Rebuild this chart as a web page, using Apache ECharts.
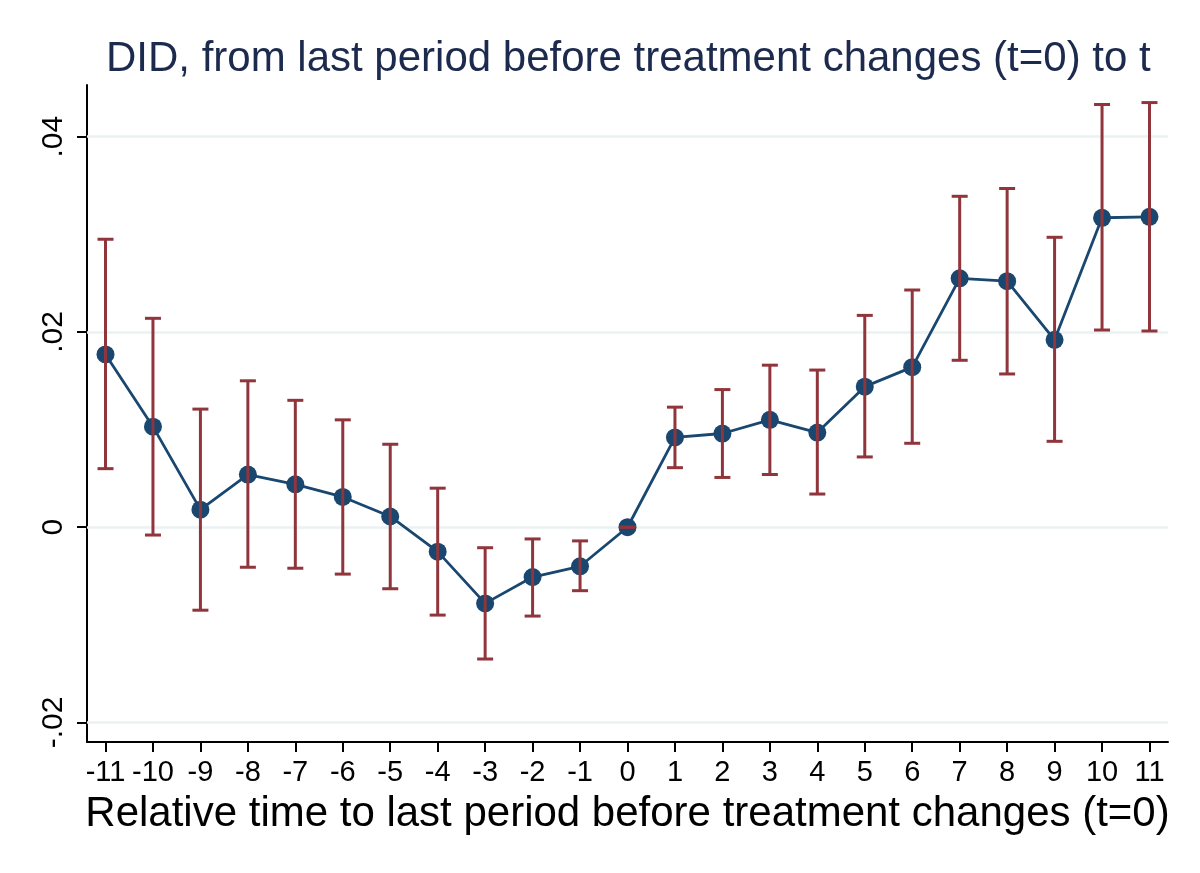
<!DOCTYPE html>
<html><head><meta charset="utf-8">
<script src="https://cdn.jsdelivr.net/npm/echarts@6/dist/echarts.min.js"></script>
<style>html,body{margin:0;padding:0;background:#fff}#c{width:1200px;height:873px}</style>
</head><body><div id="c"></div>
<script>
const periods = [-11,-10,-9,-8,-7,-6,-5,-4,-3,-2,-1,0,1,2,3,4,5,6,7,8,9,10,11];
const estimates = [0.0177,0.0103,0.0018,0.0054,0.0044,0.0031,0.0011,-0.0025,-0.0078,-0.0051,-0.0040,0,0.0092,0.0096,0.0110,0.0097,0.0144,0.0164,0.0255,0.0252,0.0192,0.0317,0.0318];
const ciLower = [0.0060,-0.0008,-0.0085,-0.0041,-0.0042,-0.0048,-0.0063,-0.0090,-0.0135,-0.0091,-0.0065,0,0.0061,0.0051,0.0054,0.0034,0.0072,0.0086,0.0171,0.0157,0.0088,0.0202,0.0201];
const ciUpper = [0.0295,0.0214,0.0121,0.0150,0.0130,0.0110,0.0085,0.0040,-0.0021,-0.0012,-0.0014,0,0.0123,0.0141,0.0166,0.0161,0.0217,0.0243,0.0339,0.0347,0.0297,0.0433,0.0435];
const yTicks = [-0.02,0,0.02,0.04];
const xTicks = periods;
const titleText = 'DID, from last period before treatment changes (t=0) to t';
const xTitle = 'Relative time to last period before treatment changes (t=0)';

const FONT = "'Liberation Sans', Arial, sans-serif";
const chart = echarts.init(document.getElementById('c'), null, {renderer:'canvas'});
function fmtY(v){ if (v === 0) return '0'; const s = String(Math.abs(v)).replace(/^0/, ''); return (v < 0 ? '-' : '') + s; }

const pointData = periods.map((p,i)=>[p, estimates[i]]);
const ciData = periods.map((p,i)=>[p, ciLower[i], ciUpper[i]]);

chart.setOption({
  backgroundColor:'#ffffff',
  animation:false,
  title:{text:titleText,left:106,top:38,padding:0,
    textStyle:{fontFamily:FONT,fontSize:42,fontWeight:'normal',color:'#1c2a4d'}},
  grid:{left:87,right:32,top:85,bottom:131,containLabel:false},
  xAxis:{type:'value',min:-11.39,max:11.39,
    name:xTitle,nameLocation:'middle',nameGap:51,
    nameTextStyle:{fontFamily:FONT,fontSize:42,color:'#000'},
    axisLine:{show:true,onZero:false,lineStyle:{color:'#000',width:2}},
    axisTick:{show:true,length:10,lineStyle:{color:'#000',width:2},customValues:xTicks},
    axisLabel:{customValues:xTicks,margin:16,fontFamily:FONT,fontSize:29,color:'#000',formatter:v=>String(v)},
    splitLine:{show:false}},
  yAxis:{type:'value',min:-0.022,max:0.0453,
    axisLine:{show:true,onZero:false,lineStyle:{color:'#000',width:2}},
    axisTick:{show:true,length:10,lineStyle:{color:'#000',width:2},customValues:yTicks},
    axisLabel:{customValues:yTicks,rotate:90,margin:18,fontFamily:FONT,fontSize:30,color:'#000',formatter:fmtY},
    splitLine:{show:false}},
  series:[
    {type:'line',data:pointData,symbol:'circle',symbolSize:18,z:3,
      itemStyle:{color:'#1a476f'},lineStyle:{color:'#1a476f',width:2.8},
      markLine:{silent:true,symbol:'none',label:{show:false},z:1,
        lineStyle:{color:'#eaf2f3',width:2.5,type:'solid'},
        data:yTicks.map(v=>({yAxis:v}))}},
    {type:'custom',z:5,data:ciData,
      renderItem:function(params,api){
        const x=api.value(0), lo=api.value(1), hi=api.value(2);
        const pLo=api.coord([x,lo]), pHi=api.coord([x,hi]);
        const hw=8;
        const st={stroke:'#90353b',lineWidth:3};
        return {type:'group',children:[
          {type:'line',shape:{x1:pLo[0],y1:pLo[1],x2:pHi[0],y2:pHi[1]},style:st},
          {type:'line',shape:{x1:pLo[0]-hw,y1:pLo[1],x2:pLo[0]+hw,y2:pLo[1]},style:st},
          {type:'line',shape:{x1:pHi[0]-hw,y1:pHi[1],x2:pHi[0]+hw,y2:pHi[1]},style:st}
        ]};
      }}
  ]
});
</script>
</body></html>
